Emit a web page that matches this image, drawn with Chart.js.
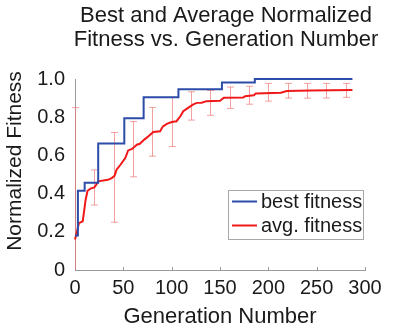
<!DOCTYPE html>
<html>
<head>
<meta charset="utf-8">
<script src="https://cdn.jsdelivr.net/npm/chart.js@4.4.1/dist/chart.umd.min.js"></script>
<style>
html,body{margin:0;padding:0;background:#fff;}
#wrap{width:397px;height:330px;}
</style>
</head>
<body>
<div id="wrap"><canvas id="c" width="397" height="330"></canvas></div>
<script>
// ---- text ----
const titleLines = ['Best and Average Normalized', 'Fitness vs. Generation Number'];
const xAxisTitle = 'Generation Number';
const yAxisTitle = 'Normalized Fitness';
const seriesNames = ['best fitness', 'avg. fitness'];

// ---- tick labels ----
const xTickValues = [0, 50, 100, 150, 200, 250, 300];
const yTickValues = [0, 0.2, 0.4, 0.6, 0.8, 1.0];

// ---- best fitness (step changes) ----
const bestGen = [0, 3, 10, 24, 51, 71, 107, 152, 186, 287];
const bestFit = [0.18, 0.415, 0.457, 0.662, 0.795, 0.905, 0.946, 0.982, 1.0, 1.0];

// ---- average fitness ----
const avgGen = [0, 2, 4, 8, 11, 13, 16, 20, 22, 24, 34, 38, 41, 43, 47, 52, 55, 59, 64, 67, 72, 76, 81, 88, 91, 95, 100, 105, 109, 112, 117, 122, 126, 131, 136, 150, 154, 174, 176, 185, 187, 213, 219, 244, 287];
const avgFit = [0.16, 0.20, 0.245, 0.255, 0.368, 0.415, 0.426, 0.432, 0.446, 0.464, 0.472, 0.481, 0.494, 0.525, 0.551, 0.586, 0.626, 0.634, 0.656, 0.661, 0.684, 0.70, 0.723, 0.726, 0.752, 0.765, 0.775, 0.779, 0.805, 0.831, 0.849, 0.866, 0.875, 0.876, 0.884, 0.886, 0.902, 0.903, 0.91, 0.915, 0.924, 0.928, 0.937, 0.94, 0.942];

// ---- error bars on average fitness ----
const errGen  = [0, 20, 40, 60, 80, 100, 120, 140, 160, 180, 200, 220, 240, 260, 280];
const errHigh = [0.85, 0.524, 0.72, 0.777, 0.851, 0.904, 0.933, 0.94, 0.958, 0.962, 0.977, 0.977, 0.977, 0.977, 0.977];
const errLow  = [-0.53, 0.34, 0.25, 0.488, 0.596, 0.646, 0.785, 0.81, 0.846, 0.868, 0.884, 0.9, 0.9, 0.9, 0.904];

const FONT = "'Liberation Sans', Arial, Helvetica, sans-serif";
const TXT = '#1a1a1a';
const BLUE = '#2c4ca8';
const RED = '#f01818';
const ERR = 'rgba(240,110,110,0.65)';
const AXIS = '#9a9a9a';

const errorBarsPlugin = {
  id: 'errorBars',
  beforeDatasetsDraw(chart) {
    const {ctx, chartArea, scales: {x, y}} = chart;
    ctx.save();
    ctx.beginPath();
    ctx.rect(chartArea.left - 4, chartArea.top - 4, chartArea.width + 8, chartArea.height + 4);
    ctx.clip();
    ctx.strokeStyle = ERR;
    ctx.lineWidth = 1;
    const cap = 3.5;
    errGen.forEach((g, i) => {
      const px = Math.round(x.getPixelForValue(g)) + 0.5;
      const yh = y.getPixelForValue(errHigh[i]);
      const yl = y.getPixelForValue(errLow[i]);
      ctx.beginPath();
      ctx.moveTo(px, yh); ctx.lineTo(px, yl);
      ctx.moveTo(px - cap, yh); ctx.lineTo(px + cap, yh);
      ctx.moveTo(px - cap, yl); ctx.lineTo(px + cap, yl);
      ctx.stroke();
    });
    ctx.restore();
    // inward tick marks on x axis
    ctx.save();
    ctx.strokeStyle = AXIS;
    ctx.lineWidth = 1;
    xTickValues.forEach(v => {
      if (v === 0) return;
      const px = Math.round(x.getPixelForValue(v)) + 0.5;
      ctx.beginPath();
      ctx.moveTo(px, chartArea.bottom);
      ctx.lineTo(px, chartArea.bottom - 3);
      ctx.stroke();
    });
    ctx.restore();
  }
};

const textPlugin = {
  id: 'texts',
  afterDraw(chart) {
    const {ctx} = chart;
    ctx.save();
    ctx.fillStyle = TXT;
    ctx.textAlign = 'center';
    ctx.textBaseline = 'alphabetic';
    ctx.font = '22px ' + FONT;
    ctx.fillText(titleLines[0], 226, 21.5);
    ctx.fillText(titleLines[1], 226, 45.5);
    // y axis title
    ctx.translate(15, 161);
    ctx.rotate(-Math.PI / 2);
    ctx.font = '21px ' + FONT;
    ctx.textBaseline = 'middle';
    ctx.fillText(yAxisTitle, 0, 0);
    ctx.restore();

    // legend
    ctx.save();
    const bx = 228.5, by = 190.5, bw = 135, bh = 49;
    ctx.fillStyle = '#fff';
    ctx.fillRect(bx, by, bw, bh);
    ctx.strokeStyle = '#a8a8a8';
    ctx.lineWidth = 1;
    ctx.strokeRect(bx, by, bw, bh);
    const rows = [201.5, 225.5];
    chart.data.datasets.forEach((ds, i) => {
      ctx.strokeStyle = ds.borderColor;
      ctx.lineWidth = 2;
      ctx.beginPath();
      ctx.moveTo(232, rows[i]);
      ctx.lineTo(257, rows[i]);
      ctx.stroke();
      ctx.fillStyle = TXT;
      ctx.font = '20px ' + FONT;
      ctx.textAlign = 'left';
      ctx.textBaseline = 'middle';
      ctx.fillText(ds.label, 261, rows[i] + 1);
    });
    ctx.restore();
  }
};

new Chart(document.getElementById('c'), {
  type: 'line',
  data: {
    datasets: [
      {
        label: seriesNames[0],
        data: bestGen.map((g, i) => ({x: g, y: bestFit[i]})),
        borderColor: BLUE,
        backgroundColor: BLUE,
        borderWidth: 2,
        pointRadius: 0,
        stepped: true,
        clip: 4
      },
      {
        label: seriesNames[1],
        data: avgGen.map((g, i) => ({x: g, y: avgFit[i]})),
        borderColor: RED,
        backgroundColor: RED,
        borderWidth: 2,
        pointRadius: 0,
        tension: 0,
        clip: 4
      }
    ]
  },
  options: {
    responsive: false,
    devicePixelRatio: 1,
    animation: false,
    events: [],
    layout: {padding: {top: 79, right: 32, left: 0, bottom: 0}},
    plugins: {
      legend: {display: false},
      title: {display: false},
      tooltip: {enabled: false}
    },
    scales: {
      x: {
        type: 'linear',
        min: 0, max: 300,
        afterBuildTicks: s => { s.ticks = xTickValues.map(v => ({value: v})); },
        afterFit: s => { s.height = 60; },
        grid: {display: false, drawTicks: false},
        border: {display: true, color: AXIS, width: 1},
        ticks: {
          color: TXT, padding: 6, maxRotation: 0, autoSkip: false,
          font: {family: FONT, size: 20}
        },
        title: {
          display: true, text: xAxisTitle, color: TXT,
          font: {family: FONT, size: 22},
          padding: {top: 0, bottom: 0}
        }
      },
      y: {
        type: 'linear',
        min: 0, max: 1,
        afterBuildTicks: s => { s.ticks = yTickValues.map(v => ({value: v})); },
        afterFit: s => { s.width = 75; },
        grid: {display: false, drawTicks: false},
        border: {display: true, color: AXIS, width: 1},
        ticks: {
          color: TXT, padding: 10,
          font: {family: FONT, size: 20},
          callback: v => (v === 0 ? '0' : Number(v).toFixed(1))
        }
      }
    }
  },
  plugins: [errorBarsPlugin, textPlugin]
});
</script>
</body>
</html>
